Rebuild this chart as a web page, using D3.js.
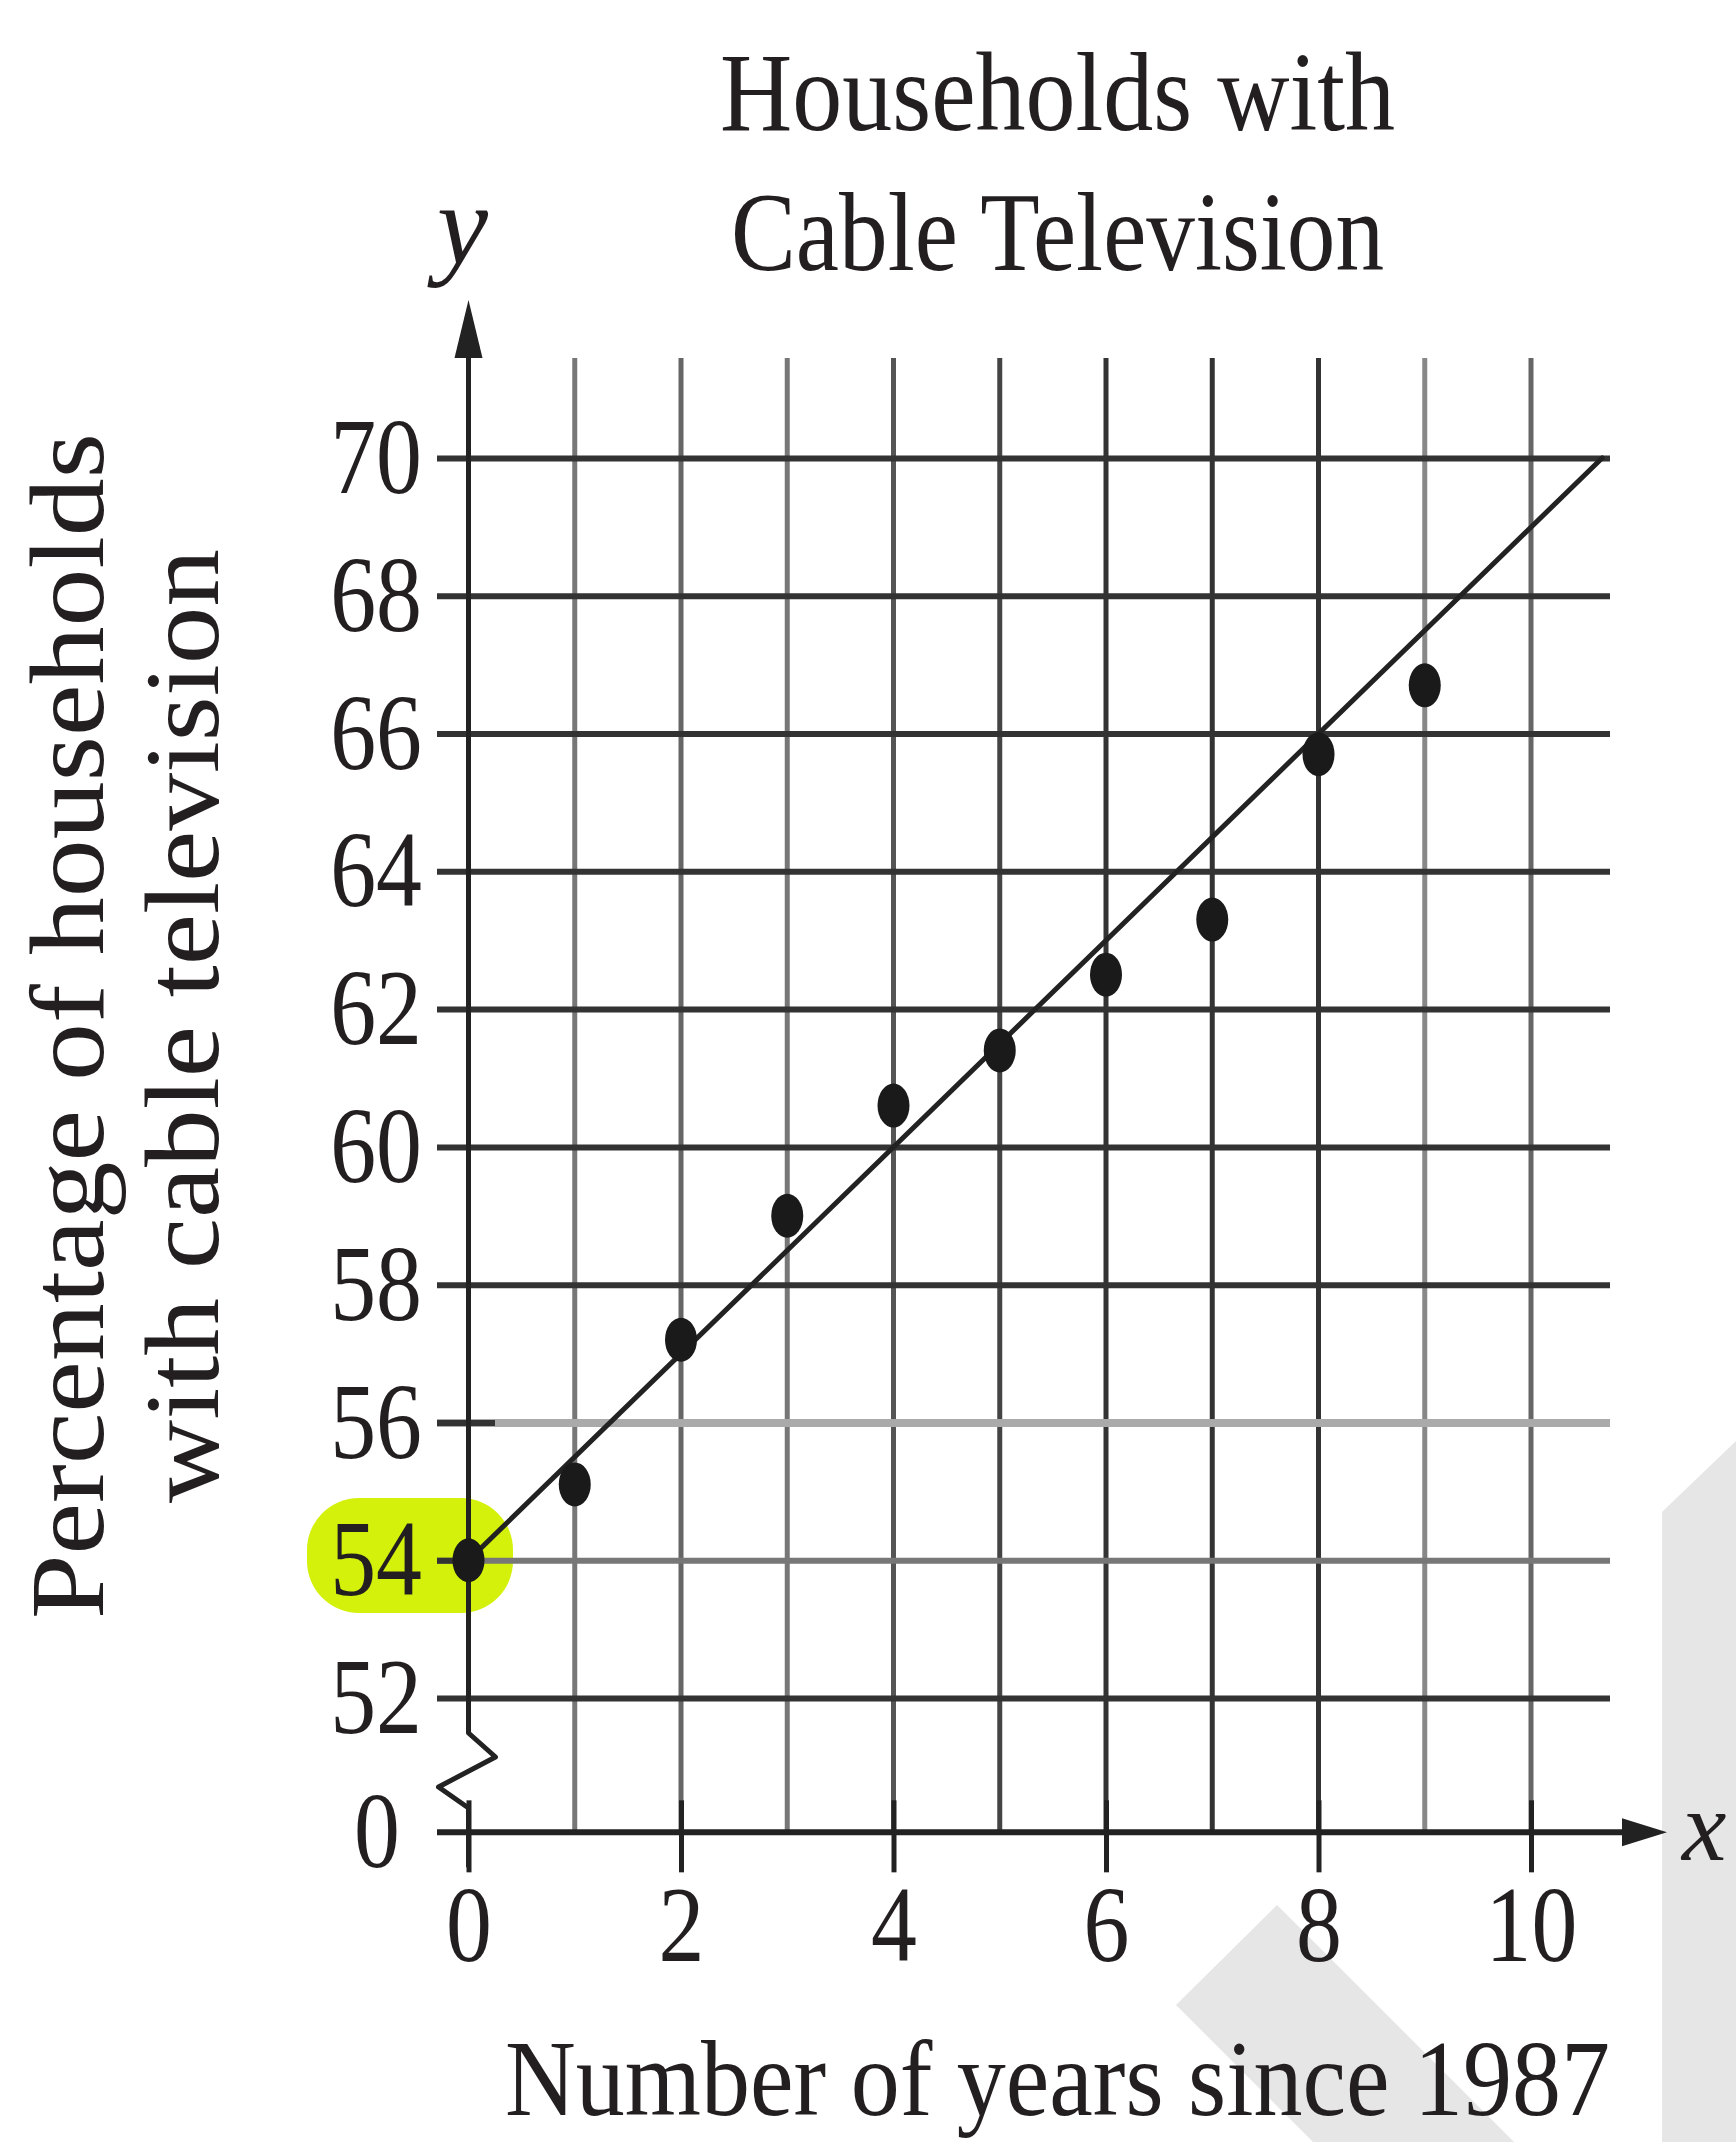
<!DOCTYPE html>
<html>
<head>
<meta charset="utf-8">
<script src="https://cdn.jsdelivr.net/npm/d3@7"></script>
<style>
  html, body { margin: 0; padding: 0; background: #fff; }
  svg { display: block; }
  text { font-family: 'Liberation Serif', 'Times New Roman', serif; fill: #231f20; }
</style>
</head>
<body>
<svg id="chart" width="1736" height="2142"></svg>
<script>
// ---------- data ----------
const years = [0, 1, 2, 3, 4, 5, 6, 7, 8, 9];
const percents = [54.0, 55.1, 57.2, 59.0, 60.6, 61.4, 62.5, 63.3, 65.7, 66.7];
const yTicks = [52, 54, 56, 58, 60, 62, 64, 66, 68, 70];
const xTicks = [0, 2, 4, 6, 8, 10];
const xGridValues = [0, 1, 2, 3, 4, 5, 6, 7, 8, 9, 10];
const trendX = [0, 10.67];
const trendY = [54, 70];
const titleLines = ["Households with", "Cable Television"];
const yTitleLines = ["Percentage of households", "with cable television"];
const xTitle = "Number of years since 1987";

// ---------- setup ----------
const svg = d3.select("#chart");
const x = d3.scaleLinear().domain([0, 10]).range([468.5, 1531]);
const y = d3.scaleLinear().domain([52, 70]).range([1698, 458]);
const breakValue = 50.05;            // where the "0" line sits below the axis break
const zeroY = y(breakValue);
const gridLeft = 437, gridRight = 1610, gridTop = 358;
const ink = "#222";

// watermark shapes (background)
svg.append("polygon").attr("points", "1277,1905 1176,2005 1313,2142 1514,2142").attr("fill", "#e6e6e6");
svg.append("polygon").attr("points", "1662,1512 1736,1441 1736,2142 1662,2142").attr("fill", "#e6e6e6");

// highlight behind 54
svg.append("rect")
  .attr("x", 307).attr("y", 1498).attr("width", 206).attr("height", 115)
  .attr("rx", 52).attr("fill", "#d3f10a");

// vertical grid lines
const vColors = ["#222", "#777", "#666", "#777", "#555", "#444", "#333", "#333", "#333", "#888", "#666"];
svg.append("g").selectAll("line").data(xGridValues.slice(1)).join("line")
  .attr("x1", d => x(d)).attr("x2", d => x(d))
  .attr("y1", gridTop).attr("y2", zeroY)
  .attr("stroke", d => vColors[d]).attr("stroke-width", 5);

// horizontal grid lines + y tick labels via axis
const gY = svg.append("g").attr("transform", `translate(${gridLeft},0)`)
  .call(d3.axisLeft(y).tickValues(yTicks).tickSize(-(gridRight - gridLeft)).tickPadding(15).tickFormat(d3.format("d")));
gY.select(".domain").remove();
gY.selectAll(".tick line")
  .attr("stroke", d => d === 56 ? "#aaa" : (d === 54 ? "#777" : "#333"))
  .attr("stroke-width", d => d === 56 ? 8 : 6);
gY.selectAll(".tick")
  .filter(d => d === 56 || d === 54)
  .append("line").attr("x1", 0).attr("x2", d => d === 56 ? 58 : 45)
  .attr("stroke", "#333").attr("stroke-width", 6);
gY.selectAll(".tick text")
  .attr("font-size", 108)
  .attr("fill", "#231f20")
  .attr("x", -15 / 0.85)
  .attr("transform", "scale(0.85,1)");

// "0" label on the broken axis
svg.append("text")
  .attr("transform", `translate(400,${zeroY + 35}) scale(0.85,1)`)
  .attr("text-anchor", "end").attr("font-size", 108).text("0");

// y axis (with break zigzag)
const x0 = x(0);
const axisPts = [
  [x0, y(70) - 101], [x0, y(52) + 35], [x0 + 27, y(52) + 59], [x0 - 30, y(52) + 89],
  [x0, y(52) + 110], [x0, zeroY + 35]
];
svg.append("path").attr("d", d3.line()(axisPts))
  .attr("fill", "none").attr("stroke", ink).attr("stroke-width", 5).attr("stroke-linejoin", "round");
// y arrow
svg.append("polygon")
  .attr("points", `${x0},${y(70) - 158} ${x0 - 14},${y(70) - 100} ${x0 + 14},${y(70) - 100}`)
  .attr("fill", ink);

// x axis
const xAxisEnd = 1622;
svg.append("line").attr("x1", gridLeft).attr("x2", xAxisEnd).attr("y1", zeroY).attr("y2", zeroY)
  .attr("stroke", ink).attr("stroke-width", 6);
svg.append("polygon")
  .attr("points", `${xAxisEnd},${zeroY - 14} ${xAxisEnd + 45},${zeroY} ${xAxisEnd},${zeroY + 14}`)
  .attr("fill", ink);

const gX = svg.append("g").attr("transform", `translate(0,${zeroY})`)
  .call(d3.axisBottom(x).tickValues(xTicks).tickSize(40).tickPadding(12));
gX.select(".domain").remove();
gX.selectAll(".tick line").attr("y1", -32).attr("stroke", ink).attr("stroke-width", 5);
gX.selectAll(".tick text")
  .attr("font-size", 108).attr("fill", "#231f20")
  .attr("transform", "scale(0.85,1)")
  .attr("x", 0);

// trend line
svg.append("path")
  .attr("d", d3.line()(trendX.map((d, i) => [x(d), y(trendY[i])])))
  .attr("fill", "none").attr("stroke", ink).attr("stroke-width", 5).attr("stroke-linecap", "round");

// data points
svg.append("g").selectAll("ellipse").data(years).join("ellipse")
  .attr("cx", (d) => x(d)).attr("cy", (d, i) => y(percents[i]))
  .attr("rx", 16).attr("ry", 22).attr("fill", "#1a1a1a");

// axis letter labels
svg.append("text").attr("x", 437).attr("y", 264).attr("font-size", 115)
  .attr("font-style", "italic").text("y");
svg.append("text").attr("x", 1682).attr("y", 1860).attr("font-size", 100)
  .attr("font-style", "italic").text("x");

// title
const titleX = [720, 731], titleBase = [130, 270], titleLen = [675, 653];
titleLines.forEach((t, i) => {
  svg.append("text").attr("x", titleX[i]).attr("y", titleBase[i]).attr("font-size", 112)
    .attr("textLength", titleLen[i]).attr("lengthAdjust", "spacingAndGlyphs").text(t);
});

// y axis title
const yTitlePos = [[103, 1619, 1186], [218, 1503, 954]];
yTitleLines.forEach((t, i) => {
  svg.append("text")
    .attr("transform", `translate(${yTitlePos[i][0]},${yTitlePos[i][1]}) rotate(-90)`)
    .attr("font-size", 106)
    .attr("textLength", yTitlePos[i][2]).attr("lengthAdjust", "spacingAndGlyphs").text(t);
});

// x axis title
svg.append("text").attr("x", 505).attr("y", 2115).attr("font-size", 108)
  .attr("textLength", 1105).attr("lengthAdjust", "spacingAndGlyphs").text(xTitle);
</script>
</body>
</html>
